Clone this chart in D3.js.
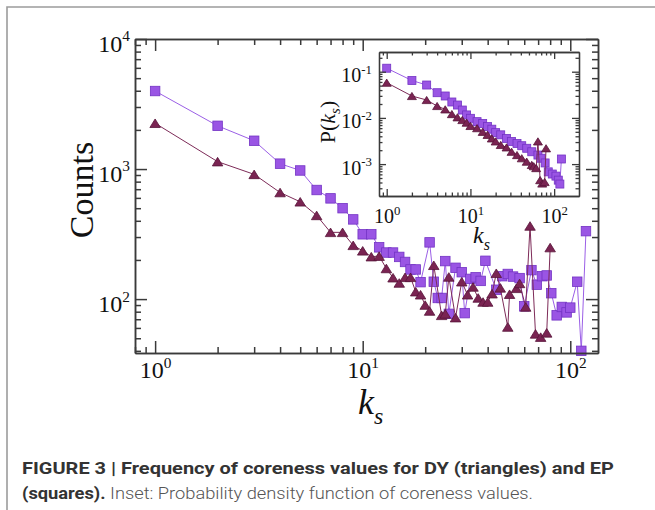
<!DOCTYPE html>
<html>
<head>
<meta charset="utf-8">
<script src="https://cdn.jsdelivr.net/npm/d3@7"></script>
<style>
  body { margin: 0; background: #fff; }
</style>
</head>
<body>
<svg id="chart" width="655" height="510"></svg>
<script>
// ---- main panel: counts per coreness value ----
const epK = [1,2,3,4,5,6,7,8,9,10,11,12,13,14,15,16,17,18,19,21,22,23,24,25,26,28,30,31,33,35,37,39,44,47,50,53,57,60,65,69,73,77,81,86,91,96,100,108,113,119];
const epCounts = [3980,2150,1650,1100,975,690,595,500,410,315,315,250,228,228,211,193,169,169,135,273,136,102,102,196,77,174,161,78,143,147,138,197,118,150,156,149,145,88,167,129,150,152,111,75,87,79,86,136,40,333];

const dyK = [1,2,3,4,5,6,7,8,9,10,11,12,13,14,15,16,17,18,19,20,21,22,24,25,26,28,30,32,34,36,38,40,42,44,46,50,51,55,57,61,64,68,72,77,80];
const dyCounts = [2250,1140,910,660,560,440,326,326,259,235,212,214,172,146,133,147,147,114,108,90,81,182,75,77,148,72,136,108,124,102,95,95,110,158,122,61,109,121,132,87,365,54,51,55,249];

// ---- inset: probability density ----
const insEpK = [1,2,3,4,5,6,7,8,9,10,12,14,16,18,20,23,27,31,36,41,47,54,64,70,78,85,95,105,112,117,122];
const insEpP = [0.119,0.0645,0.0515,0.0351,0.0298,0.0221,0.019,0.0148,0.0116,0.0098,0.0083,0.0076,0.0065,0.0057,0.0048,0.0043,0.0036,0.0031,0.0028,0.0025,0.0022,0.00185,0.00157,0.00134,0.00106,0.00068,0.00061,0.00055,0.00045,0.00037,0.00129];

const insDyK = [1,2,3,4,5,6,7,8,9,10,12,14,16,18,20,23,27,31,36,41,47,54,57,61,64,68,72,77,80];
const insDyP = [0.0578,0.0298,0.0244,0.0181,0.0153,0.0121,0.0103,0.009,0.0079,0.0067,0.006,0.005,0.0043,0.0036,0.0031,0.0026,0.0023,0.00185,0.00157,0.00134,0.00113,0.00096,0.0009,0.00082,0.0031,0.00045,0.00038,0.00041,0.0022];

// tick labels (powers of ten)
const mainXTicks = [1, 10, 100];
const mainYTicks = [100, 1000, 10000];
const insetXTicks = [1, 10, 100];
const insetYTicks = [0.001, 0.01, 0.1];

const serif = '"Liberation Serif","Times New Roman",serif';
const sqFill = '#9a55e4', sqEdge = '#7333c4', sqLine = '#9b5fe6';
const trFill = '#7a2452', trEdge = '#58143a', trLine = '#7d2b58';

const svg = d3.select('#chart');

// figure frame (left and top edges)
svg.append('path')
  .attr('d', 'M7,510V7H655')
  .attr('fill', 'none')
  .attr('stroke', '#9c9c9c')
  .attr('stroke-width', 1.6);

const box = {l: 135, r: 598, t: 39, b: 353};
const x = d3.scaleLog().domain([0.8, 136]).range([box.l, box.r]);
const y = d3.scaleLog().domain([38.5, 10000]).range([box.b, box.t]);

const ibox = {l: 379, r: 579, t: 52, b: 196};
const xi = d3.scaleLog().domain([0.809, 198]).range([ibox.l, ibox.r]);
const yi = d3.scaleLog().domain([2.04e-4, 0.267]).range([ibox.b, ibox.t]);

function minorTicks(scale) {
  const [lo, hi] = scale.domain();
  const out = [];
  for (let e = Math.floor(Math.log10(lo)); e <= Math.ceil(Math.log10(hi)); e++) {
    for (let m = 2; m <= 9; m++) {
      const v = m * Math.pow(10, e);
      if (v >= lo && v <= hi) out.push(v);
    }
  }
  return out;
}

function supLabels(g, fs, dy) {
  g.selectAll('.tick text').each(function(d) {
    const t = d3.select(this);
    t.text('10').attr('font-family', serif).attr('font-size', fs).attr('fill', '#111');
    if (dy != null) t.attr('dy', dy);
    t.append('tspan')
      .attr('dy', -0.42 * fs)
      .attr('font-size', 0.64 * fs)
      .text(Math.round(Math.log10(d)));
  });
}

function frame(xs, ys, b, xMaj, yMaj, bigLen, smallLen, fs, padX, padY, sw) {
  const sides = [
    [d3.axisBottom, xs, `translate(0,${b.b})`, xMaj, true, null],
    [d3.axisTop, xs, `translate(0,${b.t})`, xMaj, false, null],
    [d3.axisLeft, ys, `translate(${b.l},0)`, yMaj, true, '0.5em'],
    [d3.axisRight, ys, `translate(${b.r},0)`, yMaj, false, null]
  ];
  sides.forEach(([fn, sc, tr, maj, lab, dy]) => {
    const gMin = svg.append('g').attr('transform', tr)
      .call(fn(sc).tickValues(minorTicks(sc)).tickSize(-smallLen).tickSizeOuter(0).tickFormat(''));
    const pad = (fn === d3.axisBottom || fn === d3.axisTop) ? padX : padY;
    const gMaj = svg.append('g').attr('transform', tr)
      .call(fn(sc).tickValues(maj).tickSize(-bigLen).tickSizeOuter(0).tickPadding(pad)
        .tickFormat(lab ? (d => d) : ''));
    [gMin, gMaj].forEach(g => g.selectAll('line,path').attr('stroke', '#3a3a3a').attr('stroke-width', sw));
    if (lab) supLabels(gMaj, fs, dy);
  });
}

function triPath(w, h) {
  return `M0,${-h / 2}L${w / 2},${h / 2}L${-w / 2},${h / 2}Z`;
}

function series(xs, ys, ks, vs, kind, size, lw) {
  const pts = ks.map((k, i) => ({k: k, v: vs[i]}));
  const line = d3.line().x(d => xs(d.k)).y(d => ys(d.v));
  svg.append('path').datum(pts)
    .attr('d', line)
    .attr('fill', 'none')
    .attr('stroke', kind === 'sq' ? sqLine : trLine)
    .attr('stroke-width', lw);
  const g = svg.append('g');
  if (kind === 'sq') {
    g.selectAll('rect').data(pts).enter().append('rect')
      .attr('x', d => xs(d.k) - size / 2)
      .attr('y', d => ys(d.v) - size / 2)
      .attr('width', size).attr('height', size)
      .attr('fill', sqFill).attr('stroke', sqEdge).attr('stroke-width', 0.8);
  } else {
    g.selectAll('path').data(pts).enter().append('path')
      .attr('d', triPath(size + 1, size * 0.9))
      .attr('transform', d => `translate(${xs(d.k)},${ys(d.v)})`)
      .attr('fill', trFill).attr('stroke', trEdge).attr('stroke-width', 0.8);
  }
}

// ---- main panel ----
series(x, y, epK, epCounts, 'sq', 9.5, 1);
series(x, y, dyK, dyCounts, 'tr', 9.5, 1);
frame(x, y, box, mainXTicks, mainYTicks, 12, 6, 24, 8, 5, 1.5);

svg.append('text')
  .attr('transform', 'translate(93,190) rotate(-90)')
  .attr('text-anchor', 'middle')
  .attr('font-family', serif).attr('font-size', 34).attr('fill', '#111')
  .text('Counts');

const xl = svg.append('text')
  .attr('x', 358).attr('y', 414)
  .attr('font-family', serif).attr('font-size', 36).attr('fill', '#111');
xl.append('tspan').attr('font-style', 'italic').text('k');
xl.append('tspan').attr('font-style', 'italic').attr('font-size', 24).attr('dy', 10).text('s');

// ---- inset ----
svg.append('rect')
  .attr('x', ibox.l).attr('y', ibox.t)
  .attr('width', ibox.r - ibox.l).attr('height', ibox.b - ibox.t)
  .attr('fill', '#fff');
series(xi, yi, insEpK, insEpP, 'sq', 8, 1);
series(xi, yi, insDyK, insDyP, 'tr', 8, 1);
frame(xi, yi, ibox, insetXTicks, insetYTicks, 7, 3.5, 20, 13, 7, 1.3);

const yl = svg.append('text')
  .attr('transform', 'translate(335,122) rotate(-90)')
  .attr('text-anchor', 'middle')
  .attr('font-family', serif).attr('font-size', 22).attr('fill', '#111');
yl.append('tspan').text('P(');
yl.append('tspan').attr('font-style', 'italic').text('k');
yl.append('tspan').attr('font-style', 'italic').attr('font-size', 15).attr('dy', 5).text('s');
yl.append('tspan').attr('dy', -5).text(')');

const xil = svg.append('text')
  .attr('x', 473).attr('y', 243)
  .attr('font-family', serif).attr('font-size', 24).attr('fill', '#111');
xil.append('tspan').attr('font-style', 'italic').text('k');
xil.append('tspan').attr('font-style', 'italic').attr('font-size', 16).attr('dy', 7).text('s');

// ---- caption ----
const capFont = 'Roboto,"Liberation Sans",Arial,sans-serif';
svg.append('text')
  .attr('x', 22).attr('y', 474)
  .attr('font-family', capFont).attr('font-size', 17).attr('font-weight', 700)
  .attr('fill', '#333')
  .attr('textLength', 592).attr('lengthAdjust', 'spacingAndGlyphs')
  .text('FIGURE 3 | Frequency of coreness values for DY (triangles) and EP');

const cap2 = svg.append('text')
  .attr('x', 22).attr('y', 499)
  .attr('font-family', capFont).attr('font-size', 17)
  .attr('fill', '#333')
  .attr('textLength', 511).attr('lengthAdjust', 'spacingAndGlyphs');
cap2.append('tspan').attr('font-weight', 700).text('(squares).');
cap2.append('tspan').attr('font-weight', 300).attr('fill', '#555')
  .text(' Inset: Probability density function of coreness values.');
</script>
</body>
</html>
